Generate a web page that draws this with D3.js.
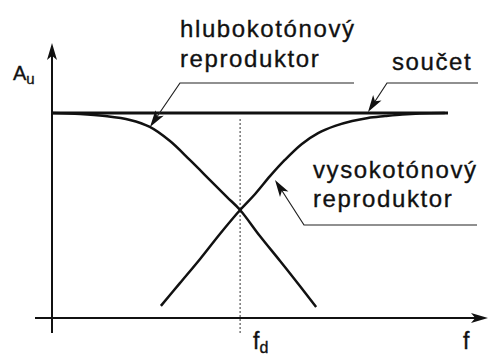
<!DOCTYPE html>
<html>
<head>
<meta charset="utf-8">
<script src="https://cdn.jsdelivr.net/npm/d3@7"></script>
<style>
	body { margin: 0; background: #fff; }
	svg { display: block; }
	text { font-family: "Liberation Sans", Arial, sans-serif; fill: #111; stroke: #111; stroke-width: 0.35; }
</style>
</head>
<body>
<script>
// frequency 0..100 (arbitrary), amplitude 0..1
const lowFreq = [0, 7.1, 13.4, 19.7, 24.7, 29.8, 34.8, 39.9, 44.2, 47.5, 52.5, 57.6, 62.6, 66.7];
const lowAmp  = [1, 0.995, 0.985, 0.966, 0.932, 0.863, 0.771, 0.673, 0.590, 0.527, 0.400, 0.278, 0.156, 0.054];

const highFreq = [27.5, 32.3, 37.4, 42.4, 47.5, 51.3, 55.1, 58.8, 63.1, 67.2, 71.5, 75.8, 79.8, 84.1, 88.4, 92.9, 99.2];
const highAmp  = [0.059, 0.170, 0.288, 0.410, 0.527, 0.605, 0.693, 0.771, 0.849, 0.902, 0.937, 0.961, 0.976, 0.985, 0.993, 0.998, 1];

const sumFreq = [0, 100];
const sumAmp  = [1, 1];

const crossFreq = 47.5;

const labels = {
	low: ["hlubokotónový", "reproduktor"],
	high: ["vysokotónový", "reproduktor"],
	sum: "součet"
};

const width = 489,
	height = 355;

const svg = d3.select("body")
	.append("svg")
	.attr("width", width)
	.attr("height", height);

const x = d3.scaleLinear().domain([0, 100]).range([52, 448]);
const y = d3.scaleLinear().domain([0, 1]).range([318, 113]);

const line = d3.line()
	.x(d => x(d[0]))
	.y(d => y(d[1]))
	.curve(d3.curveCatmullRom.alpha(0.5));

const zip = (a, b) => a.map((v, i) => [v, b[i]]);

// arrow head helper: tip at (tx,ty), coming from (fx,fy)
function arrowHead(g, fx, fy, tx, ty, len, half) {
	const a = Math.atan2(ty - fy, tx - fx);
	const bx = tx - len * Math.cos(a), by = ty - len * Math.sin(a);
	const nx = -Math.sin(a) * half, ny = Math.cos(a) * half;
	g.append("path")
		.attr("d", `M${tx},${ty}L${bx + nx},${by + ny}L${bx + len * 0.25 * Math.cos(a)},${by + len * 0.25 * Math.sin(a)}L${bx - nx},${by - ny}Z`)
		.attr("fill", "#111");
}

// axes
const ax = svg.append("g").attr("stroke", "#111").attr("stroke-width", 2);
ax.append("line")
	.attr("x1", x(0)).attr("x2", x(0))
	.attr("y1", y(0) + 15).attr("y2", y(1) - 66);
ax.append("line")
	.attr("x1", x(0) - 17).attr("x2", x(100) + 36)
	.attr("y1", y(0)).attr("y2", y(0));
arrowHead(svg, x(0), y(0), x(0), y(1) - 70, 17, 5);
arrowHead(svg, x(0), y(0), x(100) + 40, y(0), 17, 5);

// crossover frequency
svg.append("line")
	.attr("x1", x(crossFreq)).attr("x2", x(crossFreq))
	.attr("y1", y(1) + 6).attr("y2", y(0) + 16)
	.attr("stroke", "#333")
	.attr("stroke-width", 1)
	.attr("stroke-dasharray", "2,2");

// curves
svg.append("path")
	.attr("d", line(zip(sumFreq, sumAmp)))
	.attr("fill", "none").attr("stroke", "#111").attr("stroke-width", 3);

svg.append("path")
	.attr("d", line(zip(lowFreq, lowAmp)))
	.attr("fill", "none").attr("stroke", "#111").attr("stroke-width", 2.5);

svg.append("path")
	.attr("d", line(zip(highFreq, highAmp)))
	.attr("fill", "none").attr("stroke", "#111").attr("stroke-width", 2.5);

// leaders
const lead = svg.append("g").attr("stroke", "#222").attr("stroke-width", 1.2).attr("fill", "none");

lead.append("path").attr("d", "M354,83L180,83L152,124");
arrowHead(svg, 180, 83, 150, 127, 17, 5);

lead.append("path").attr("d", "M478,83L387,83L370,109");
arrowHead(svg, 387, 83, 368, 112, 17, 5);

lead.append("path").attr("d", "M477,225L304,225L277,183");
arrowHead(svg, 304, 225, 275, 180, 17, 5);

// texts
const big = 24, ls = 1.6;

function label(lines, tx, ty, gap) {
	lines.forEach((t, i) => {
		svg.append("text")
			.attr("x", tx)
			.attr("y", ty + i * gap)
			.attr("font-size", big)
			.attr("letter-spacing", ls)
			.text(t);
	});
}

label(labels.low, 180, 37, 30);
label(labels.high, 313, 178, 29);
label([labels.sum], 392, 70, 0);

const au = svg.append("text").attr("x", 13).attr("y", 80).attr("font-size", 20);
au.append("tspan").text("A");
au.append("tspan").attr("font-size", 15).attr("dy", 4).text("u");

const fd = svg.append("text").attr("x", 253).attr("y", 349).attr("font-size", 23);
fd.append("tspan").text("f");
fd.append("tspan").attr("font-size", 16).attr("dy", 4).text("d");

svg.append("text").attr("x", 463).attr("y", 349).attr("font-size", 23).text("f");
</script>
</body>
</html>
